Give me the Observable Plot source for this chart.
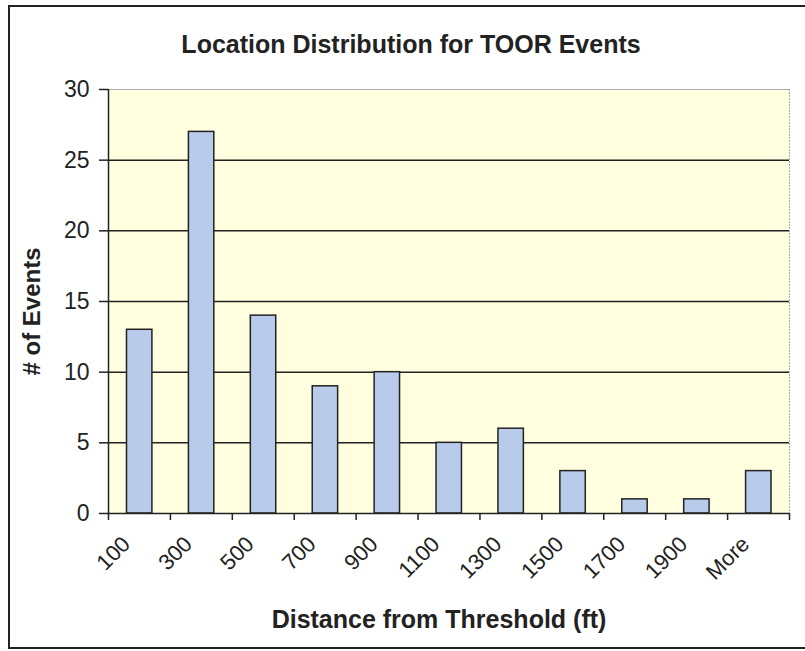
<!DOCTYPE html>
<html>
<head>
<meta charset="utf-8">
<script src="https://cdn.jsdelivr.net/npm/d3@7"></script>
<script src="https://cdn.jsdelivr.net/npm/@observablehq/plot@0.6"></script>
<style>
  html, body { margin: 0; padding: 0; background: #fff; }
  #wrap { position: relative; width: 805px; height: 651px; overflow: hidden; font-family: "Liberation Sans", Arial, sans-serif; }
  #box { position: absolute; left: 8px; top: 5px; width: 820px; height: 644px; border: 2px solid #222; border-right: none; box-sizing: border-box; }
  #title { position: absolute; left: 0; top: 0; width: 822px; height: 60px; line-height: 88px; text-align: center; font-size: 25px; font-weight: bold; color: #222; }
  #chart { position: absolute; left: 0; top: 60px; }
</style>
</head>
<body>
<div id="wrap">
  <div id="box"></div>
  <div id="title">Location Distribution for TOOR Events</div>
  <div id="chart"></div>
</div>
<script>
const categories = ["100","300","500","700","900","1100","1300","1500","1700","1900","More"];
const counts = [13, 27, 14, 9, 10, 5, 6, 3, 1, 1, 3];
const yTicks = [0, 5, 10, 15, 20, 25, 30];
const xTitle = "Distance from Threshold (ft)";
const yTitle = "# of Events";

const data = categories.map((c, i) => ({cat: c, idx: i, count: counts[i]}));
const n = categories.length;
const boundaries = d3.range(n + 1);
const yMax = yTicks[yTicks.length - 1];

const plot = Plot.plot({
  width: 805,
  height: 591,
  marginLeft: 108,
  marginRight: 16,
  marginTop: 29,
  marginBottom: 138,
  style: {fontFamily: "Liberation Sans, Arial, sans-serif", color: "#222", background: "transparent"},
  x: {domain: [0, n], axis: null},
  y: {domain: [0, yMax], axis: null},
  marks: [
    Plot.frame({fill: "#ffffdf", stroke: null}),
    Plot.ruleY([yMax], {stroke: "#aaa", strokeWidth: 1}),
    Plot.ruleX([n], {stroke: "#aaa", strokeWidth: 1, strokeDasharray: "2,1"}),
    Plot.ruleY(yTicks.filter(v => v > 0 && v < yMax), {stroke: "#222", strokeWidth: 1.5}),
    Plot.rectY(data, {x1: "idx", x2: d => d.idx + 1, y: "count", fill: "#b8cbeb", stroke: "#222", strokeWidth: 1.5, insetLeft: 18.5, insetRight: 18}),
    Plot.ruleX([0], {stroke: "#222", strokeWidth: 1.5}),
    Plot.ruleY([0], {stroke: "#222", strokeWidth: 1.5}),
    Plot.axisY({ticks: yTicks, tickSize: 9, tickPadding: 10, fontSize: 23, tickFormat: d => String(d), label: null, stroke: "#222", strokeWidth: 1.5}),
    Plot.axisX({ticks: boundaries, tickSize: 7, tickFormat: () => "", label: null, stroke: "#222", strokeWidth: 1.5}),
    Plot.text(data, {x: d => d.idx + 0.5, frameAnchor: "bottom", text: "cat", rotate: -45, textAnchor: "end", dx: -8, dy: 32, fontSize: 22, fill: "#222"}),
    Plot.text([xTitle], {frameAnchor: "bottom", text: d => d, dx: -10, dy: 114, fontSize: 25, fontWeight: "bold", fill: "#222"}),
    Plot.text([yTitle], {frameAnchor: "left", text: d => d, rotate: -90, dx: -76, dy: 74, fontSize: 24, fontWeight: "bold", fill: "#222"})
  ]
});
document.getElementById("chart").appendChild(plot);
</script>
</body>
</html>
